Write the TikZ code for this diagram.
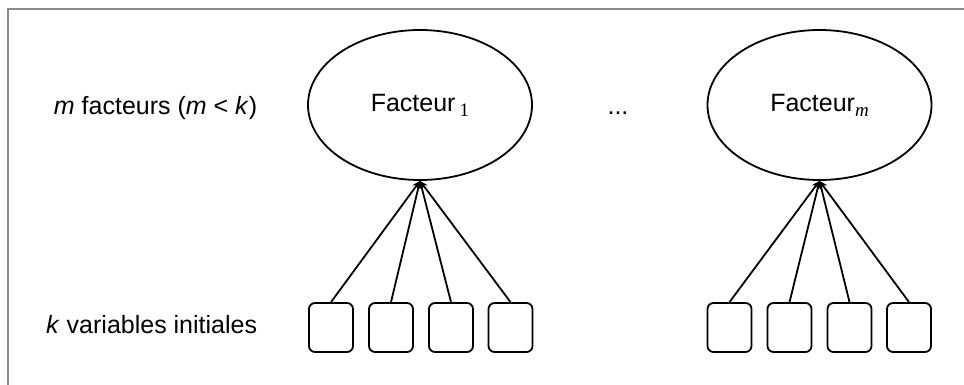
\documentclass[tikz,border=0pt]{standalone}
\usepackage{fontspec}
\setmainfont{Liberation Sans}
\newfontfamily\serifindice{Liberation Serif}
\usetikzlibrary{shapes.geometric,arrows.meta}
\newcommand{\indice}[1]{\raisebox{-5pt}{\fontsize{19}{22}\serifindice #1}}

\begin{document}
\begin{tikzpicture}[x=1pt,y=-1pt,line width=1.8pt,->,>={Stealth[length=8pt,width=7pt]}]
  \tikzstyle{facteur}=[ellipse, draw, minimum width=224pt, minimum height=150pt,
inner sep=0pt, font=\fontsize{25}{30}\selectfont]
  \tikzstyle{var}=[rectangle, draw, rounded corners=6pt, minimum width=44pt,
minimum height=49pt, inner sep=0pt]
  \tikzstyle{legende}=[font=\fontsize{25}{30}\selectfont, inner sep=0pt]
  \useasboundingbox (0,0) rectangle (964,385);
  \draw[-, black!45, line width=1.3pt] (8,400) |- (980,9);

  \node[legende, anchor=base east] (L_1) at (258,115) {\textit{m} facteurs (\textit{m} < \textit{k})};
  \node[legende, anchor=base east] (L_2) at (258,333) {\textit{k} variables initiales};
  \node[legende, anchor=base] (D) at (618,115) {...};

  \node[facteur] (F_1) at (420,105) {Facteur\,\indice{1}};
  \node[facteur] (F_m) at (819.5,105) {Facteur\indice{\itshape m}};

  \node[var] (V_1) at (331,327.5) {};
  \node[var] (V_2) at (391,327.5) {};
  \node[var] (V_3) at (451,327.5) {};
  \node[var] (V_4) at (510.5,327.5) {};
  \node[var] (V_5) at (729.5,327.5) {};
  \node[var] (V_6) at (789.5,327.5) {};
  \node[var] (V_7) at (849.5,327.5) {};
  \node[var] (V_8) at (909,327.5) {};

  \draw (V_1.north) -- (F_1.south);
  \draw (V_2.north) -- (F_1.south);
  \draw (V_3.north) -- (F_1.south);
  \draw (V_4.north) -- (F_1.south);
  \draw (V_5.north) -- (F_m.south);
  \draw (V_6.north) -- (F_m.south);
  \draw (V_7.north) -- (F_m.south);
  \draw (V_8.north) -- (F_m.south);
\end{tikzpicture}
\end{document}
